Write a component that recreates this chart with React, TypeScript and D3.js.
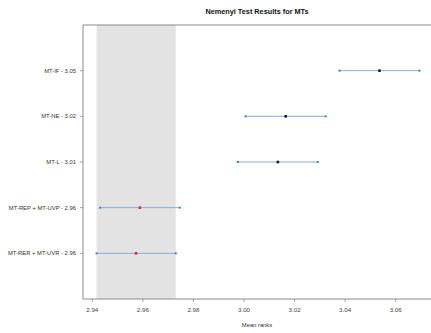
import React from "react";
import * as d3 from "d3";

// Methods listed top to bottom with their mean ranks and critical-difference intervals
const methods = ["MT-IF", "MT-NE", "MT-L", "MT-REP + MT-UVP", "MT-RER + MT-UVR"];
const rankLabels = ["3.05", "3.02", "3.01", "2.96", "2.96"];
const meanRanks = [3.0536, 3.0165, 3.0134, 2.9588, 2.9573];
const lowerBounds = [3.0378, 3.0006, 2.9976, 2.9431, 2.9417];
const upperBounds = [3.0694, 3.0323, 3.0292, 2.9746, 2.973];
const sameGroup = [false, false, false, true, true];
// Critical-difference band around the best method
const bandRange = [2.9417, 2.973];
const xTicks = [2.94, 2.96, 2.98, 3.0, 3.02, 3.04, 3.06];

const W = 431;
const H = 333;
const left = 83;
const right = 431;
const top = 25;
const bottom = 299;

export default function App() {
  const x = d3.scaleLinear().domain([2.93632, 3.07396]).range([left, right]);
  const y = d3.scaleLinear().domain([0, methods.length + 1]).range([top, bottom]);
  const axisColor = "#8a8a8a";
  const font = "'Liberation Sans', Arial, sans-serif";

  return (
    <svg
      width={W}
      height={H}
      style={{ position: "absolute", left: 0, top: 0, background: "#fff" }}
      fontFamily={font}
    >
      <rect x={0} y={0} width={W} height={H} fill="#fff" />
      <text x={(left + right) / 2} y={13.5} textAnchor="middle" fontSize={7.3} fontWeight="bold" fill="#111">
        Nemenyi Test Results for MTs
      </text>

      <rect
        x={x(bandRange[0])}
        y={top}
        width={x(bandRange[1]) - x(bandRange[0])}
        height={bottom - top}
        fill="#e3e3e3"
      />

      {methods.map((m, i) => {
        const yy = y(i + 1);
        const c = sameGroup[i] ? "#e8262b" : "#1a1a1a";
        return (
          <g key={m}>
            <line x1={left - 3} x2={left} y1={yy} y2={yy} stroke={axisColor} strokeWidth={0.8} />
            <text x={left - 7} y={yy + 2.1} textAnchor="end" fontSize={5.85} fill="#333">
              {`${m} - ${rankLabels[i]}`}
            </text>
            <line
              x1={x(lowerBounds[i])}
              x2={x(upperBounds[i])}
              y1={yy}
              y2={yy}
              stroke="#85afd8"
              strokeWidth={1}
            />
            <rect x={x(lowerBounds[i]) - 1} y={yy - 1} width={2} height={2} fill="#3d7fc4" />
            <rect x={x(upperBounds[i]) - 1} y={yy - 1} width={2} height={2} fill="#3d7fc4" />
            <rect x={x(meanRanks[i]) - 1.3} y={yy - 1.3} width={2.6} height={2.6} fill={c} />
          </g>
        );
      })}

      <line x1={left} x2={right} y1={top} y2={top} stroke={axisColor} strokeWidth={1} />
      <line x1={left} x2={left} y1={top} y2={bottom} stroke={axisColor} strokeWidth={1} />
      <line x1={left} x2={right} y1={bottom} y2={bottom} stroke={axisColor} strokeWidth={1} />

      {xTicks.map((t) => (
        <g key={t}>
          <line x1={x(t)} x2={x(t)} y1={bottom} y2={bottom + 3} stroke={axisColor} strokeWidth={0.8} />
          <text x={x(t)} y={bottom + 13} textAnchor="middle" fontSize={6.2} fill="#444">
            {t.toFixed(2)}
          </text>
        </g>
      ))}

      <text x={(left + right) / 2} y={327} textAnchor="middle" fontSize={5.8} fill="#333">
        Mean ranks
      </text>
    </svg>
  );
}
